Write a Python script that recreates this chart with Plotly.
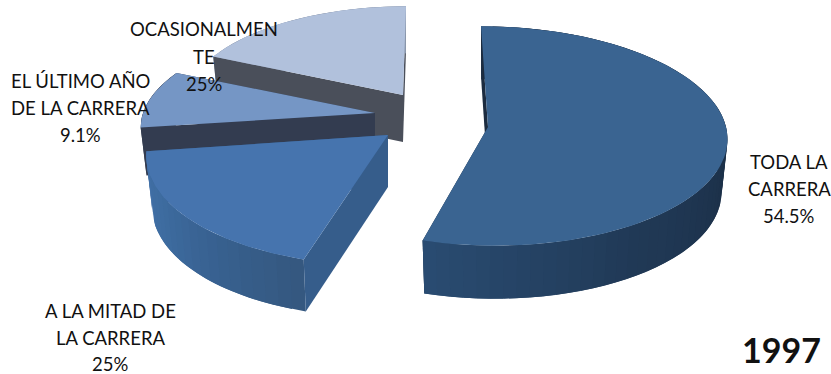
import numpy as np
import plotly.graph_objects as go

# ---- data -------------------------------------------------------------
categories = ["TODA LA CARRERA", "A LA MITAD DE LA CARRERA",
              "EL ÚLTIMO AÑO DE LA CARRERA", "OCASIONALMENTE"]
shares = [54.5, 18.2, 9.1, 18.2]
year = "1997"
label_lines = [
    ["TODA LA", "CARRERA", "54.5%"],
    ["A LA MITAD DE", "LA CARRERA", "25%"],
    ["EL ÚLTIMO AÑO", "DE LA CARRERA", "9.1%"],
    ["OCASIONALMEN", "TE", "25%"],
]

# ---- per-slice style: apex, radii, perspective, shear, depth, colours ----
style = [
    dict(c=(488, 127), R=238, ry=109, k=0.082, sh=7, d=53, top="#3a6491",
         wall="#1c2c40", arc=["#18293d", "#18293d", "#1c3048", "#213a57", "#2a4c72"]),
    dict(c=(388, 135), R=238, ry=111, k=0.15, sh=-7, d=52, top="#4674ae",
         wall="#365d8b", arc=["#35587f", "#386190", "#3e6ca0", "#4371a8"]),
    dict(c=(375, 113), R=232, ry=100, k=0.082, sh=-14, d=48, top="#7596c5",
         wall="#333c50", arc=["#333c50", "#333c50", "#333c50", "#333c50"]),
    dict(c=(403, 95), R=217, ry=96, k=0.082, sh=-3, d=47, top="#b1c1dc",
         wall="#4a4f5a", arc=["#8a96ab", "#8a96ab", "#8a96ab", "#8a96ab"]),
]
text_pos = [(789, [162, 189, 216]), (110, [311, 338, 364]),
            (80, [81, 108, 135]), (204, [29, 57, 84])]
BOTTOM_SCALE = 0.975


def project(s, theta):
    t = np.radians(theta)
    u, v = np.sin(t), -np.cos(t)
    q = 1 - s["k"] * v
    return s["c"][0] + s["R"] * u / q + s["sh"] * v, s["c"][1] + s["ry"] * v / q


def drop(s, x, y):
    return s["c"][0] + BOTTOM_SCALE * (np.asarray(x) - s["c"][0]), np.asarray(y) + s["d"]


def hex2rgb(h):
    return np.array([int(h[i:i + 2], 16) for i in (1, 3, 5)], float)


def ramp(stops, f):
    p = f * (len(stops) - 1)
    i = min(int(p), len(stops) - 2)
    col = hex2rgb(stops[i]) * (1 - (p - i)) + hex2rgb(stops[i + 1]) * (p - i)
    return "rgb(%d,%d,%d)" % tuple(col)


def poly(xs, ys, color):
    return go.Scatter(x=list(xs), y=list(ys), mode="lines", fill="toself",
                      fillcolor=color, line=dict(color=color, width=0),
                      hoverinfo="skip", showlegend=False)


def radial_wall(s, a):
    cx, cy = s["c"]
    px, py = project(s, a)
    bx, by = drop(s, [cx, px], [cy, py])
    return poly([cx, px, bx[1], bx[0]], [cy, py, by[1], by[0]], s["wall"])


# slice angles follow the shares
total = sum(shares)
edges = np.concatenate([[0], np.cumsum(shares)]) / total * 360

fig = go.Figure()
for i in [3, 2, 1, 0]:
    s = style[i]
    a0, a1 = edges[i], edges[i + 1]
    cx, cy = s["c"]
    fig.add_trace(radial_wall(s, a1))
    # curved wall in small shaded strips, each overlapping the next one
    n = max(int((a1 - a0) / 3), 2)
    grid = np.linspace(a0, a1, n + 1)
    for j in range(n):
        th = np.linspace(grid[j], grid[min(j + 2, n)], 5)
        px, py = project(s, th)
        bx, by = drop(s, px, py)
        fig.add_trace(poly(np.r_[px, bx[::-1]], np.r_[py, by[::-1]],
                           ramp(s["arc"], (j + 0.5) / n)))
    fig.add_trace(radial_wall(s, a0))
    # top face
    th = np.linspace(a0, a1, 90)
    px, py = project(s, th)
    fig.add_trace(poly(np.r_[cx, px], np.r_[cy, py], s["top"]))

for (x, ys), lines in zip(text_pos, label_lines):
    for y, line in zip(ys, lines):
        fig.add_annotation(x=x, y=y, text=line, showarrow=False,
                           xanchor="center", yanchor="middle",
                           font=dict(family="Lato", size=18.5, color="#111111"))
fig.add_annotation(x=781, y=349, text="<b>%s</b>" % year, showarrow=False,
                   xanchor="center", yanchor="middle",
                   font=dict(family="Lato", size=34, color="#111111"))

fig.update_xaxes(range=[0, 831], visible=False, fixedrange=True)
fig.update_yaxes(range=[374, 0], visible=False, fixedrange=True)
fig.update_layout(width=831, height=374, margin=dict(l=0, r=0, t=0, b=0),
                  paper_bgcolor="white", plot_bgcolor="white", showlegend=False)
fig.write_html("out.html", config=dict(displayModeBar=False),
               post_script="document.body.style.margin='0';document.body.style.overflow='hidden';")
